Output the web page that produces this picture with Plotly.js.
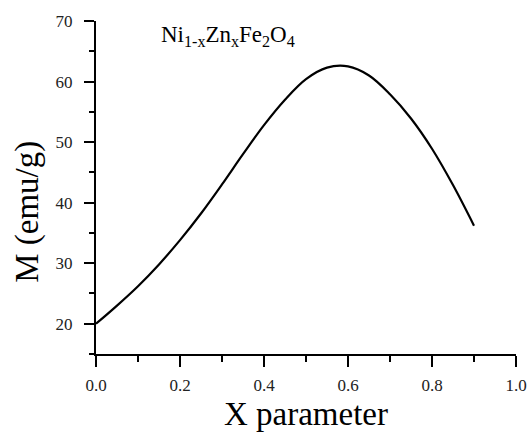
<!DOCTYPE html>
<html>
<head>
<meta charset="utf-8">
<script src="https://cdn.plot.ly/plotly-3.0.1.min.js"></script>
<style>html,body{margin:0;padding:0;background:#fff;}#chart{width:530px;height:432px;}</style>
</head>
<body>
<div id="chart"></div>
<script>
var xParam = [0, 0.05, 0.1, 0.15, 0.2, 0.25, 0.3, 0.35, 0.4, 0.45, 0.5, 0.55, 0.6, 0.65, 0.7, 0.75, 0.8, 0.85, 0.9];
var magnetization = [20.0, 23.0, 26.2, 29.8, 33.8, 38.2, 43.0, 48.0, 52.8, 57.0, 60.4, 62.3, 62.5, 61.0, 57.9, 53.9, 48.9, 42.9, 36.2];
var formulaLabel = 'Ni<sub>1-x</sub>Zn<sub>x</sub>Fe<sub>2</sub>O<sub>4</sub>';
var xTitle = 'X parameter';
var yTitle = 'M (emu/g)';

var font = 'Liberation Serif, Times New Roman, serif';
var trace = {
  x: xParam, y: magnetization, type: 'scatter', mode: 'lines',
  line: {color: '#000', width: 2.2, shape: 'spline', smoothing: 1},
  hoverinfo: 'skip'
};
var layout = {
  width: 530, height: 432,
  margin: {l: 96, r: 14, t: 21, b: 78},
  paper_bgcolor: '#fff', plot_bgcolor: '#fff',
  showlegend: false,
  font: {family: font, color: '#000'},
  xaxis: {
    range: [0, 1], tick0: 0, dtick: 0.2, tickformat: '.1f',
    showgrid: false, zeroline: false, showline: true, linecolor: '#000', linewidth: 2,
    ticks: 'outside', ticklen: 11, tickwidth: 2, tickcolor: '#000',
    minor: {dtick: 0.1, ticks: 'outside', ticklen: 6, tickwidth: 2, tickcolor: '#000', showgrid: false},
    tickfont: {family: font, size: 17, color: '#222'},
    ticklabelstandoff: 4,
    title: {text: xTitle, font: {family: font, size: 33, color: '#000'}, standoff: 8}
  },
  yaxis: {
    range: [15, 70], tick0: 0, dtick: 10,
    showgrid: false, zeroline: false, showline: true, linecolor: '#000', linewidth: 2,
    ticks: 'outside', ticklen: 10, tickwidth: 2, tickcolor: '#000',
    minor: {dtick: 5, ticks: 'outside', ticklen: 5, tickwidth: 2, tickcolor: '#000', showgrid: false},
    tickfont: {family: font, size: 17, color: '#222'},
    ticklabelstandoff: 8
  },
  annotations: [{
    text: formulaLabel, xref: 'paper', yref: 'paper',
    x: 0.15, y: 0.955, xanchor: 'left', yanchor: 'middle',
    showarrow: false, font: {family: font, size: 23, color: '#000'}
  }, {
    text: yTitle, xref: 'paper', yref: 'paper', textangle: -90,
    x: -0.165, y: 0.426, xanchor: 'center', yanchor: 'middle',
    showarrow: false, font: {family: font, size: 33, color: '#000'}
  }]
};
Plotly.newPlot('chart', [trace], layout, {displayModeBar: false, staticPlot: true});
</script>
</body>
</html>
